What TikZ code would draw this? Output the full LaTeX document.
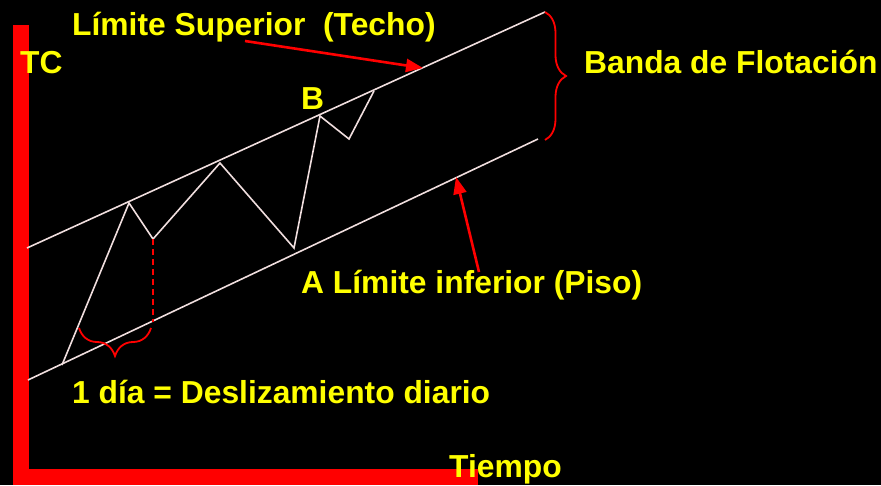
\documentclass[tikz,border=0pt]{standalone}
\usepackage{fontspec}
\setmainfont{Liberation Sans}
\usetikzlibrary{arrows.meta,decorations.pathreplacing}
\definecolor{bandline}{RGB}{240,222,222}
\definecolor{lbl}{RGB}{255,255,0}
\definecolor{axisred}{RGB}{255,0,0}
\begin{document}
\begin{tikzpicture}[x=1pt,y=-1pt,
  lbltext/.style={inner sep=0pt,anchor=base west,text=lbl,font=\fontsize{31.8}{36}\selectfont\bfseries},
  bandln/.style={draw=bandline,line width=1.6pt},
  pricepath/.style={draw=bandline,line width=1.6pt,line join=miter},
  pointer/.style={draw=axisred,line width=2.6pt,-{Triangle[length=17pt,width=13pt]}},
  bracered/.style={draw=axisred,line width=1.8pt,decorate},
  dashred/.style={draw=axisred,line width=1.8pt,dash pattern=on 6pt off 4pt}]
\fill[black] (0,0) rectangle (881,485);
\useasboundingbox (0,0) rectangle (881,485);
% axes
\fill[axisred] (13,25) rectangle (29,485);
\fill[axisred] (13,469) rectangle (478,485);
% band lines
\coordinate (u1) at (27,248);
\coordinate (u2) at (545,12);
\coordinate (l1) at (28,380);
\coordinate (l2) at (538,139);
\draw[bandln] (u1) -- (u2);
\draw[bandln] (l1) -- (l2);
% price path
\coordinate (p0) at (62,365);
\coordinate (p1) at (129,203);
\coordinate (p2) at (153,239);
\coordinate (p3) at (220,163);
\coordinate (p4) at (294,248);
\coordinate (p5) at (320,116);
\coordinate (p6) at (349,139);
\coordinate (p7) at (374,91);
\draw[pricepath] (p0) -- (p1) -- (p2) -- (p3) -- (p4) -- (p5) -- (p6) -- (p7);
% dashed drop
\coordinate (d2) at (153,322);
\draw[dashred] (p2) -- (d2);
% small brace
\coordinate (b1) at (151,328);
\coordinate (b2) at (79,328);
\draw[bracered,decoration={brace,amplitude=28pt}] (b1) -- (b2);
% big brace
\coordinate (bb1) at (545,12);
\coordinate (bb2) at (545,140);
\draw[bracered,decoration={brace,amplitude=21pt}] (bb1) -- (bb2);
% labels
\node[lbltext] (techo) at (72,35) {Límite Superior~~(Techo)};
\node[lbltext] (tc) at (20,73) {TC};
\node[lbltext] (b) at (301,109) {B};
\node[lbltext] (banda) at (584,73) {Banda de Flotación};
\node[lbltext] (piso) at (301,293) {A Límite inferior (Piso)};
\node[lbltext] (dia) at (72,403) {1 día = Deslizamiento diario};
\node[lbltext] (tiempo) at (449,477) {Tiempo};
% arrows
\coordinate (a1s) at (245,41);
\coordinate (a1e) at (423,68);
\coordinate (a2s) at (479,272);
\coordinate (a2e) at (456,177);
\draw[pointer] (a1s) -- (a1e);
\draw[pointer] (a2s) -- (a2e);
\end{tikzpicture}
\end{document}
